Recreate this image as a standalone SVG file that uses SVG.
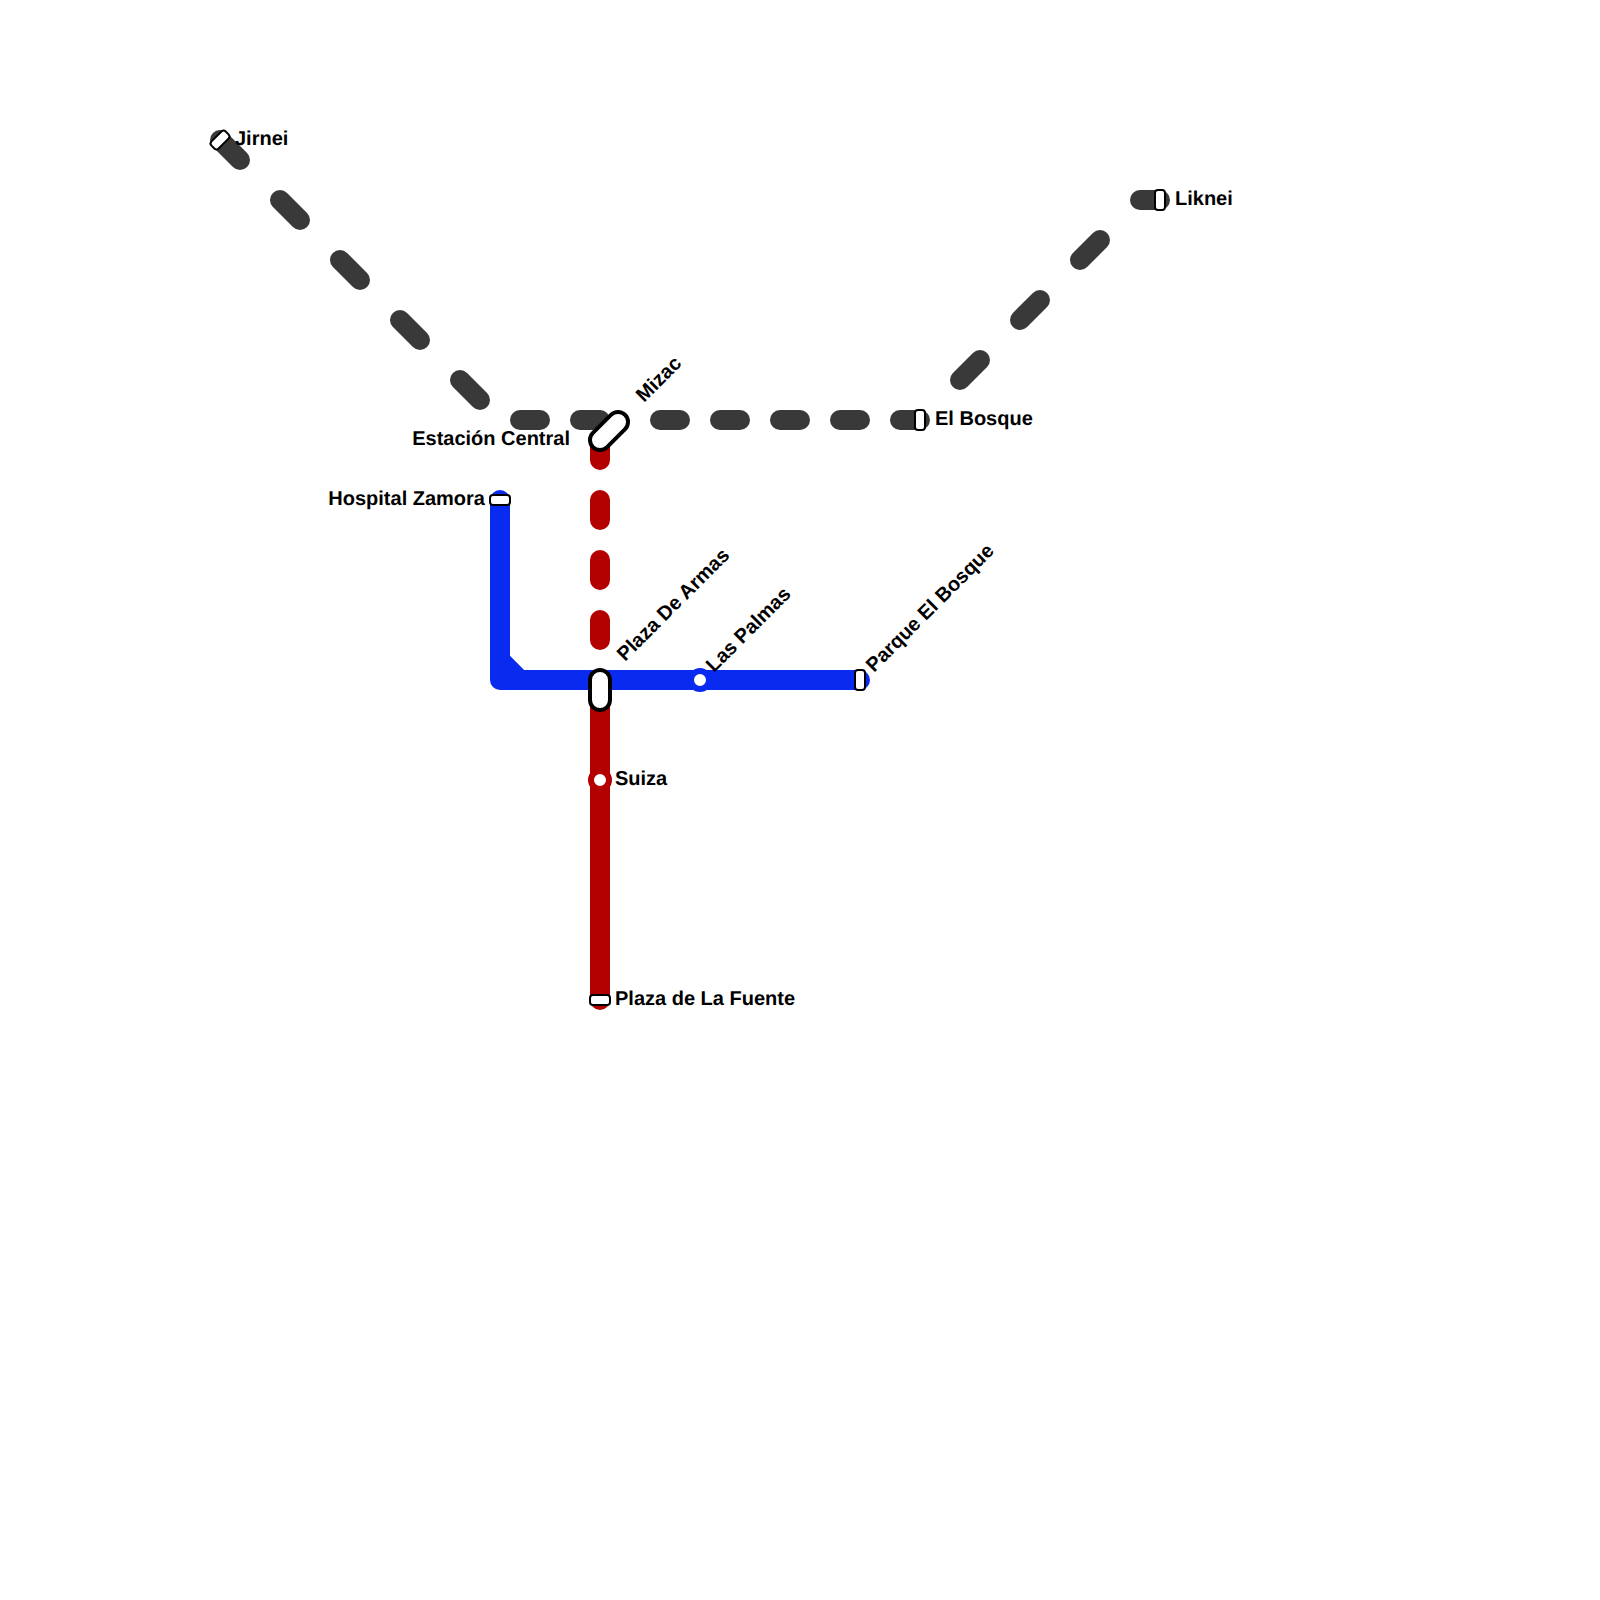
<svg xmlns="http://www.w3.org/2000/svg" width="1600" height="1600" viewBox="0 0 1600 1600">
<style>
.ln{fill:none;stroke-width:20;stroke-linecap:round;stroke-linejoin:round}
.gray{stroke:#393939}.red{stroke:#b30000}.blue{stroke:#092bf0}
.st{fill:#fff;stroke:#000;stroke-width:2}
.ic{fill:#fff;stroke:#000;stroke-width:4}
.dot{fill:#fff;stroke-width:6}
text{font-family:"Liberation Sans",Arial,sans-serif;font-size:20px;font-weight:700;fill:#000;text-rendering:geometricPrecision}
.e{text-anchor:end}
</style>
<rect width="1600" height="1600" fill="#fff"/>
<g id="connectors">
<path class="ln gray" d="M220 140L240 160M280 200L300 220M340 260L360 280M400 320L420 340M460 380L480 400M520 420H540M580 420H600M660 420H680M720 420H740M780 420H800M840 420H860M900 420H920M960 380L980 360M1020 320L1040 300M1080 260L1100 240M1140 200H1160"/>
<path class="ln red" d="M600 440V460M600 500V520M600 560V580M600 620V640M600 680V1000"/>
<path class="ln blue" d="M500 500V680H860M500 660L520 680"/>
</g>
<g id="jirnei"><rect class="st" x="-10" y="-5" width="20" height="10" rx="3" transform="translate(220 140) rotate(-45)"/><text x="235" y="145">Jirnei</text></g>
<g id="liknei"><rect class="st" x="1155" y="190" width="10" height="20" rx="3"/><text x="1175" y="205">Liknei</text></g>
<g id="el-bosque"><rect class="st" x="915" y="410" width="10" height="20" rx="3"/><text x="935" y="425">El Bosque</text></g>
<g id="estacion-central"><rect class="ic" x="-22.75" y="-10" width="45.5" height="20" rx="10" transform="translate(609 431) rotate(-45)"/><text class="e" x="570" y="445">Estación Central</text><text transform="translate(644 403) rotate(-45)">Mizac</text></g>
<g id="hospital-zamora"><rect class="st" x="490" y="495" width="20" height="10" rx="3"/><text class="e" x="485" y="505">Hospital Zamora</text></g>
<g id="plaza-de-armas"><rect class="ic" x="590" y="670" width="20" height="40" rx="10"/><text transform="translate(625 662) rotate(-45)">Plaza De Armas</text></g>
<g id="las-palmas"><circle class="dot blue" cx="700" cy="680" r="9"/><text transform="translate(714 673) rotate(-45)">Las Palmas</text></g>
<g id="parque-el-bosque"><rect class="st" x="855" y="670" width="10" height="20" rx="3"/><text transform="translate(874 673) rotate(-45)">Parque El Bosque</text></g>
<g id="suiza"><circle class="dot red" cx="600" cy="780" r="9"/><text x="615" y="785">Suiza</text></g>
<g id="plaza-de-la-fuente"><rect class="st" x="590" y="995" width="20" height="10" rx="3"/><text x="615" y="1005">Plaza de La Fuente</text></g>
</svg>
